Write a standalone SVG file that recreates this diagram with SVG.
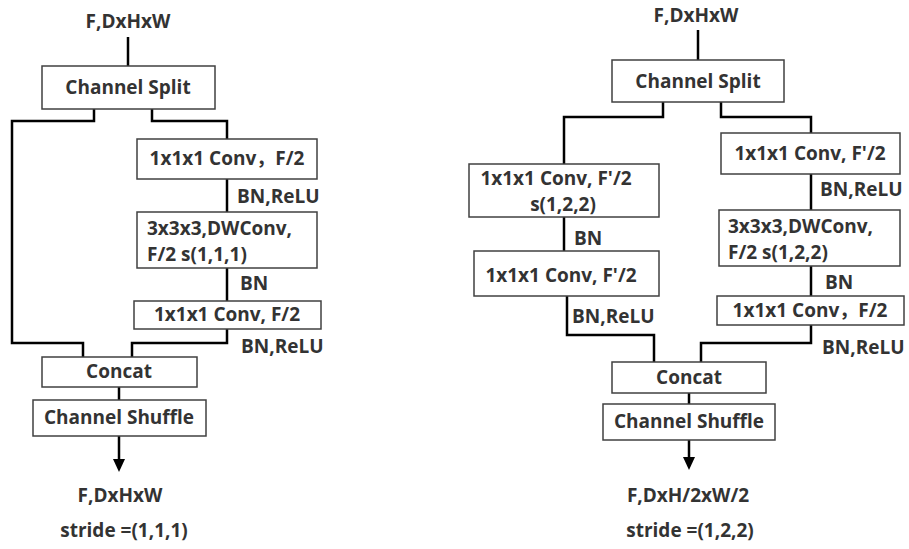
<svg xmlns="http://www.w3.org/2000/svg" width="909" height="549" viewBox="0 0 909 549">
<style>
.box{fill:#fff;stroke:#404040;stroke-width:1.5}
.t{font-family:"Open Sans","Noto Sans CJK SC",sans-serif;font-weight:700;font-size:19px;fill:#333}
.m{text-anchor:middle}
.c{fill:none;stroke:#000;stroke-width:2.5}
</style>
<g id="connectors">
<path class="c" d="M128,37 V66"/>
<path class="c" d="M94,109 V121 H12 V343 H83 V357"/>
<path class="c" d="M152,109 V121 H227 V139"/>
<path class="c" d="M227,179 V212"/>
<path class="c" d="M227,268 V301"/>
<path class="c" d="M227,329 V343 H132 V357"/>
<path class="c" d="M119,387 V400"/>
<path d="M119,436 V460" class="c"/>
<path d="M113,459 L125,459 L119,472 Z" fill="#000"/>
<path class="c" d="M698,30 V60"/>
<path class="c" d="M663,102 V117 H564 V164"/>
<path class="c" d="M721,102 V117 H811 V133"/>
<path class="c" d="M811,174 V210"/>
<path class="c" d="M811,266 V296"/>
<path class="c" d="M811,325 V343 H701 V362"/>
<path class="c" d="M564,217 V251"/>
<path class="c" d="M567,296 V335 H654 V362"/>
<path class="c" d="M689,393 V404"/>
<path d="M689,440 V458" class="c"/>
<path d="M683,457 L695,457 L689,470 Z" fill="#000"/>
</g>
<g id="left-input"><text class="t m" x="128" y="28">F,DxHxW</text></g>
<g id="left-split"><rect class="box" x="42" y="66" width="173" height="43"/><text class="t m" x="128" y="94">Channel Split</text></g>
<g id="left-conv1"><rect class="box" x="137" y="139" width="180" height="40"/><text class="t m" x="227" y="165">1x1x1 Conv，F/2</text></g>
<g id="left-lbl1"><text class="t" x="237" y="203">BN,ReLU</text></g>
<g id="left-dw"><rect class="box" x="137" y="212" width="180" height="56"/><text class="t" x="147" y="235">3x3x3,DWConv,</text><text class="t" x="147" y="261">F/2 s(1,1,1)</text></g>
<g id="left-lbl2"><text class="t" x="240" y="290">BN</text></g>
<g id="left-conv2"><rect class="box" x="134" y="301" width="187" height="28"/><text class="t m" x="227" y="321">1x1x1 Conv, F/2</text></g>
<g id="left-lbl3"><text class="t" x="241" y="353">BN,ReLU</text></g>
<g id="left-concat"><rect class="box" x="42" y="357" width="155" height="30"/><text class="t m" x="119" y="378">Concat</text></g>
<g id="left-shuffle"><rect class="box" x="33" y="400" width="173" height="36"/><text class="t m" x="119" y="424">Channel Shuffle</text></g>
<g id="left-output"><text class="t m" x="120" y="502">F,DxHxW</text><text class="t m" x="124" y="537">stride =(1,1,1)</text></g>
<g id="right-input"><text class="t m" x="696" y="22">F,DxHxW</text></g>
<g id="right-split"><rect class="box" x="612" y="60" width="172" height="42"/><text class="t m" x="698" y="88">Channel Split</text></g>
<g id="right-conv1"><rect class="box" x="721" y="133" width="179" height="41"/><text class="t m" x="810" y="160">1x1x1 Conv, F'/2</text></g>
<g id="right-lbl1"><text class="t" x="820" y="196">BN,ReLU</text></g>
<g id="right-dw"><rect class="box" x="719" y="210" width="181" height="56"/><text class="t" x="728" y="233">3x3x3,DWConv,</text><text class="t" x="728" y="259">F/2 s(1,2,2)</text></g>
<g id="right-lbl2"><text class="t" x="825" y="289">BN</text></g>
<g id="right-conv2"><rect class="box" x="717" y="296" width="187" height="29"/><text class="t m" x="810" y="317">1x1x1 Conv，F/2</text></g>
<g id="right-lbl3"><text class="t" x="822" y="354">BN,ReLU</text></g>
<g id="short-conv1"><rect class="box" x="469" y="164" width="190" height="53"/><text class="t m" x="556" y="185">1x1x1 Conv, F'/2</text><text class="t m" x="563" y="211">s(1,2,2)</text></g>
<g id="short-lbl1"><text class="t" x="574" y="245">BN</text></g>
<g id="short-conv2"><rect class="box" x="474" y="251" width="185" height="45"/><text class="t m" x="561" y="282">1x1x1 Conv, F'/2</text></g>
<g id="short-lbl2"><text class="t" x="572" y="323">BN,ReLU</text></g>
<g id="right-concat"><rect class="box" x="612" y="362" width="154" height="31"/><text class="t m" x="689" y="384">Concat</text></g>
<g id="right-shuffle"><rect class="box" x="603" y="404" width="172" height="36"/><text class="t m" x="689" y="428">Channel Shuffle</text></g>
<g id="right-output"><text class="t m" x="688" y="502">F,DxH/2xW/2</text><text class="t m" x="690" y="537">stride =(1,2,2)</text></g>
</svg>
